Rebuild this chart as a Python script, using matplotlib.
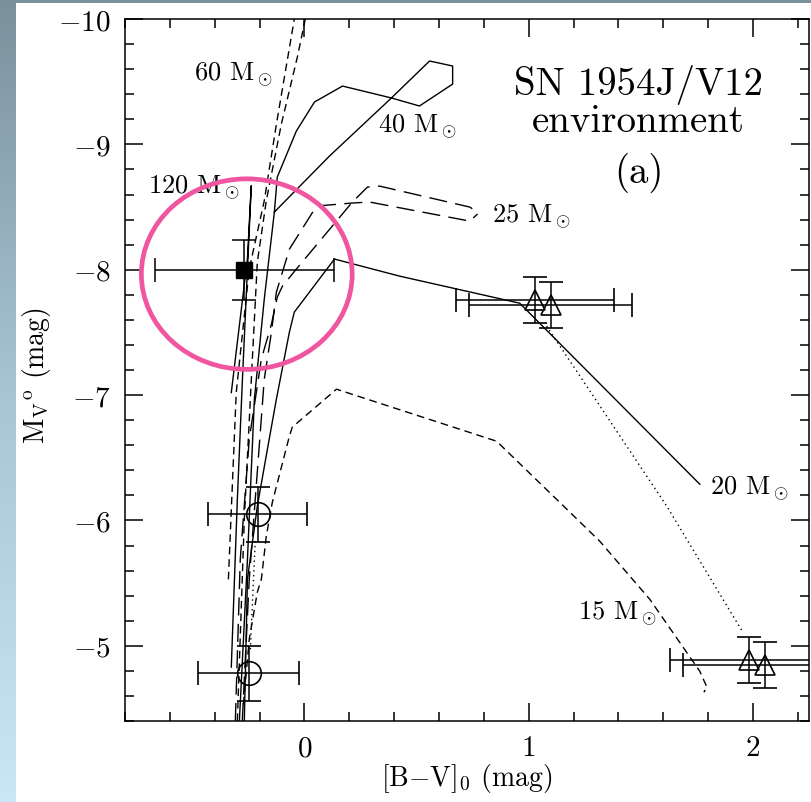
import matplotlib
matplotlib.use("Agg")
import matplotlib.pyplot as plt
import numpy as np
from matplotlib.patches import Ellipse, Rectangle
from matplotlib.ticker import MultipleLocator

plt.rcParams['font.family'] = 'serif'
plt.rcParams['font.serif'] = ['cmr10', 'DejaVu Serif']
plt.rcParams['mathtext.fontset'] = 'cm'
plt.rcParams['axes.formatter.use_mathtext'] = True

# ---- evolutionary tracks ([B-V]_0, M_V) ----
m120_x = [-0.326, -0.299, -0.277, -0.237, -0.254, -0.326]
m120_y = [-4.83, -6.17, -7.10, -8.67, -8.09, -7.02]

m60a_x = [-0.299, -0.268, -0.232, -0.210, -0.170, -0.103, -0.031, 0.004]
m60a_y = [-4.40, -6.01, -7.29, -8.06, -8.55, -9.16, -9.70, -10.0]
m60b_x = [-0.339, -0.304, -0.246, -0.179, -0.125, -0.045]
m60b_y = [-5.53, -7.02, -8.005, -8.55, -9.16, -10.0]

m40_x = [-0.290, -0.254, -0.223, -0.179, -0.134, -0.121, -0.036, 0.045, 0.170,
         0.388, 0.513, 0.661, 0.661, 0.558, 0.388, 0.112, -0.134]
m40_y = [-4.40, -5.69, -6.97, -7.765, -8.46, -8.739, -9.106, -9.338, -9.465,
         -9.370, -9.306, -9.481, -9.625, -9.665, -9.370, -8.907, -8.46]

m25a_x = [-0.277, -0.246, -0.179, -0.147, -0.125, -0.067, 0.054, 0.214, 0.290, 0.737, 0.772]
m25a_y = [-4.40, -5.53, -7.127, -7.502, -7.821, -8.164, -8.508, -8.532, -8.540, -8.388, -8.444]
m25b_x = [-0.308, -0.286, -0.246, -0.192, -0.147, -0.121, -0.098, -0.036, 0.214, 0.281, 0.335, 0.737, 0.772]
m25b_y = [-4.40, -5.69, -6.648, -7.287, -7.566, -7.781, -7.869, -8.005, -8.540, -8.659, -8.667, -8.500, -8.460]

m20_x = [-0.268, -0.254, -0.210, -0.165, -0.125, -0.067, -0.045, 0.134, 0.424, 0.960, 1.763]
m20_y = [-4.40, -5.531, -6.113, -6.568, -6.967, -7.502, -7.662, -8.085, -7.949, -7.733, -6.289]

dot1_x = [-0.241, -0.219]
dot1_y = [-4.972, -5.850]
dot2_x = [1.080, 1.616, 1.955]
dot2_y = [-7.550, -6.113, -5.108]

m15_x = [-0.272, -0.246, -0.210, -0.192, -0.170, -0.143, -0.067, -0.054, 0.143, 0.857,
         1.138, 1.317, 1.540, 1.763, 1.795, 1.781]
m15_y = [-4.533, -5.052, -5.427, -5.531, -5.874, -6.145, -6.672, -6.744, -7.047, -6.632,
         -6.145, -5.834, -5.371, -4.797, -4.669, -4.629]

# ---- photometry ----
sq_x, sq_y, sq_xe, sq_ye = [-0.268], [-8.00], [0.40], [0.24]
circ_x = [-0.208, -0.249]
circ_y = [-6.05, -4.78]
circ_xe = [0.22, 0.225]
circ_ye = [0.22, 0.22]
tri_x = [1.027, 1.098, 1.982, 2.054]
tri_y = [-7.758, -7.718, -4.885, -4.850]
tri_xe = [0.353, 0.362, 0.35, 0.365]
tri_ye = [0.186, 0.186, 0.183, 0.183]

track_labels = ['60 M$_\\odot$', '120 M$_\\odot$', '40 M$_\\odot$', '25 M$_\\odot$',
                '20 M$_\\odot$', '15 M$_\\odot$']
label_x = [-0.491, -0.696, 0.326, 0.835, 1.808, 1.219]
label_y = [-9.561, -8.659, -9.146, -8.428, -6.265, -5.267]

fig = plt.figure(figsize=(8.12, 8.03), dpi=100)

# slide background
bg = fig.add_axes([0, 0, 1, 1], zorder=-10)
grad = np.linspace(0, 1, 256).reshape(-1, 1)
cmap = matplotlib.colors.LinearSegmentedColormap.from_list('bg', ['#7b919c', '#a9c6d6', '#cbe6f4'])
bg.imshow(grad, aspect='auto', cmap=cmap, extent=[0, 1, 0, 1], origin='upper')
bg.add_patch(Rectangle((16 / 812, 0), 1, 799 / 803, facecolor='white', edgecolor='none',
                       transform=bg.transAxes))
bg.set_xlim(0, 1)
bg.set_ylim(0, 1)
bg.axis('off')

ax = fig.add_axes([125 / 812, 81 / 803, 684 / 812, 702 / 803])
ax.set_facecolor('white')
lw = 1.0
ax.plot(m120_x, m120_y, color='black', lw=lw)
ax.plot(m60a_x, m60a_y, color='black', lw=lw, dashes=(5.5, 3.5))
ax.plot(m60b_x, m60b_y, color='black', lw=lw, dashes=(5.5, 3.5))
ax.plot(m40_x, m40_y, color='black', lw=lw)
ax.plot(m25a_x, m25a_y, color='black', lw=lw, dashes=(13, 6))
ax.plot(m25b_x, m25b_y, color='black', lw=lw, dashes=(13, 6))
ax.plot(m20_x, m20_y, color='black', lw=lw)
ax.plot(dot1_x, dot1_y, color='black', lw=lw, dashes=(1, 2.5))
ax.plot(dot2_x, dot2_y, color='black', lw=lw, dashes=(1, 2.5))
ax.plot(m15_x, m15_y, color='black', lw=lw, dashes=(5.5, 3.5))

ekw = dict(ecolor='black', elinewidth=1.1, capsize=8.5, capthick=1.1, linestyle='none')
ax.errorbar(sq_x, sq_y, xerr=sq_xe, yerr=sq_ye, fmt='s', ms=12, mfc='black', mec='black', **ekw)
ax.errorbar(circ_x, circ_y, xerr=circ_xe, yerr=circ_ye, fmt='o', ms=17, mfc='none',
            mec='black', mew=1.2, **ekw)
ax.errorbar(tri_x, tri_y, xerr=tri_xe, yerr=tri_ye, fmt='^', ms=15, mfc='none',
            mec='black', mew=1.2, **ekw)

ax.add_patch(Ellipse((-0.257, -7.965), 0.94, 1.52, fill=False, edgecolor='#f0569f', lw=3.4, zorder=5))

for t, x, y in zip(track_labels, label_x, label_y):
    ax.text(x, y, t, fontsize=19, ha='left', va='center')

ax.text(1.49, -9.481, 'SN 1954J/V12', fontsize=28, ha='center', va='center')
ax.text(1.49, -9.186, 'environment', fontsize=28, ha='center', va='center')
ax.text(1.49, -8.779, '(a)', fontsize=28, ha='center', va='center')

ax.set_xlim(-0.8, 2.25)
ax.set_ylim(-4.4, -10)
ax.xaxis.set_major_locator(MultipleLocator(1))
ax.xaxis.set_minor_locator(MultipleLocator(0.2))
ax.yaxis.set_major_locator(MultipleLocator(1))
ax.yaxis.set_minor_locator(MultipleLocator(0.2))
ax.tick_params(which='both', direction='in', top=True, right=True, width=1.1)
ax.tick_params(which='major', length=13, labelsize=21, pad=10)
ax.tick_params(which='minor', length=6.5)
for s in ax.spines.values():
    s.set_linewidth(1.1)

ax.set_xlabel(r'[B$-$V]$_0$ (mag)', fontsize=20, va='center')
ax.xaxis.set_label_coords(0.5, -0.081)
ax.set_ylabel(r'M$_{\rm V}{}^{\rm o}$ (mag)', fontsize=20, va='center')
ax.yaxis.set_label_coords(-0.13, 0.494)

plt.savefig('out.png', dpi=100)
